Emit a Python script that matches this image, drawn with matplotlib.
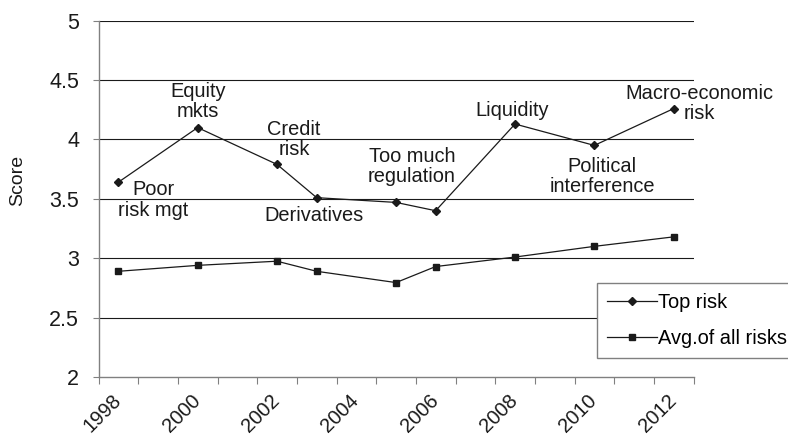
import matplotlib
matplotlib.use("Agg")
import matplotlib.pyplot as plt
import matplotlib.transforms as mtransforms
import numpy as np

plt.rcParams['font.family'] = ['Liberation Sans', 'DejaVu Sans']

# ---- data ----
years = [1998, 2000, 2002, 2003, 2005, 2006, 2008, 2010, 2012]
top_risk = [3.64, 4.10, 3.79, 3.51, 3.47, 3.40, 4.13, 3.95, 4.26]
avg_all = [2.89, 2.94, 2.975, 2.89, 2.795, 2.93, 3.01, 3.10, 3.18]
risk_labels = ["Poor\nrisk mgt", "Equity\nmkts", "Credit\nrisk", "Derivatives",
               "Too much\nregulation", None, "Liquidity", "Political\ninterference",
               "Macro-economic\nrisk"]
label_offsets = [(35, -18), (0, 26), (17, 25), (-3, -18), (16, 36), None,
                 (-3, 14), (8, -31), (26, 5)]
tick_years = [1998, 2000, 2002, 2004, 2006, 2008, 2010, 2012]
y_ticks = [2, 2.5, 3, 3.5, 4, 4.5, 5]
y_tick_labels = ["2", "2.5", "3", "3.5", "4", "4.5", "5"]
series_names = ["Top risk", "Avg.of all risks"]

W, H = 788, 437
fig = plt.figure(figsize=(W / 100, H / 100), dpi=100)
ax = fig.add_axes([98.5 / W, 1 - 377 / H, (693.5 - 98.5) / W, (377 - 20.7) / H])

FS = 14.4
TFS = 15.5
XFS = 14.5
dark = '#1a1a1a'
grey = '#808080'

ax.plot(years, top_risk, color=dark, lw=0.9, marker='D', ms=4.0,
        mfc=dark, mec=dark, label=series_names[0], zorder=3)
ax.plot(years, avg_all, color=dark, lw=0.9, marker='s', ms=3.8,
        mfc=dark, mec=dark, label=series_names[1], zorder=3)

ax.set_xlim(1997.5, 2012.5)
ax.set_ylim(2, 5)

for sp in ['top', 'right']:
    ax.spines[sp].set_visible(False)
for sp in ['left', 'bottom']:
    ax.spines[sp].set_color(grey)
    ax.spines[sp].set_linewidth(1.0)

ax.set_yticks(y_ticks)
ax.set_yticklabels(y_tick_labels, fontsize=TFS, color=dark)
ax.tick_params(axis='y', direction='out', length=4.5, width=0.8, color=grey, pad=9.5)
for yv in y_ticks[1:]:
    ax.axhline(yv, color=dark, lw=0.8, zorder=1)

boundaries = np.arange(1997.5, 2013.0, 1.0)
ax.set_xticks(boundaries)
ax.set_xticklabels([''] * len(boundaries))
ax.tick_params(axis='x', which='major', direction='out', length=5, width=0.8, color=grey)
ax.set_xticks(tick_years, minor=True)
ax.set_xticklabels([str(y) for y in tick_years], minor=True, fontsize=XFS,
                   rotation=45, ha='right', va='top', rotation_mode='anchor', color=dark)
ax.tick_params(axis='x', which='minor', length=0, pad=9.9)
offset = mtransforms.ScaledTranslation(-7.0 / 100, 0, fig.dpi_scale_trans)
for lab in ax.xaxis.get_minorticklabels():
    lab.set_transform(lab.get_transform() + offset)

for x, y, lab, off in zip(years, top_risk, risk_labels, label_offsets):
    if lab is None:
        continue
    ax.annotate(lab, xy=(x, y), xytext=off, textcoords='offset pixels',
                ha='center', va='center', fontsize=FS, color=dark, linespacing=1.11)

fig.text(17.5 / W, 1 - 180 / H, "Score", rotation=90, ha='center', va='center',
         fontsize=14, color=dark)

leg = ax.legend(loc='upper left', bbox_to_anchor=(596.7 / W, 1 - 283.3 / H),
                bbox_transform=fig.transFigure, borderaxespad=0, fancybox=False,
                edgecolor=grey, framealpha=1, fontsize=FS, handlelength=2.5,
                handletextpad=0.05, labelspacing=0.83, borderpad=0.5)
leg.get_frame().set_linewidth(1.0)
leg.set_zorder(5)

fig.savefig("out.png", dpi=100)
